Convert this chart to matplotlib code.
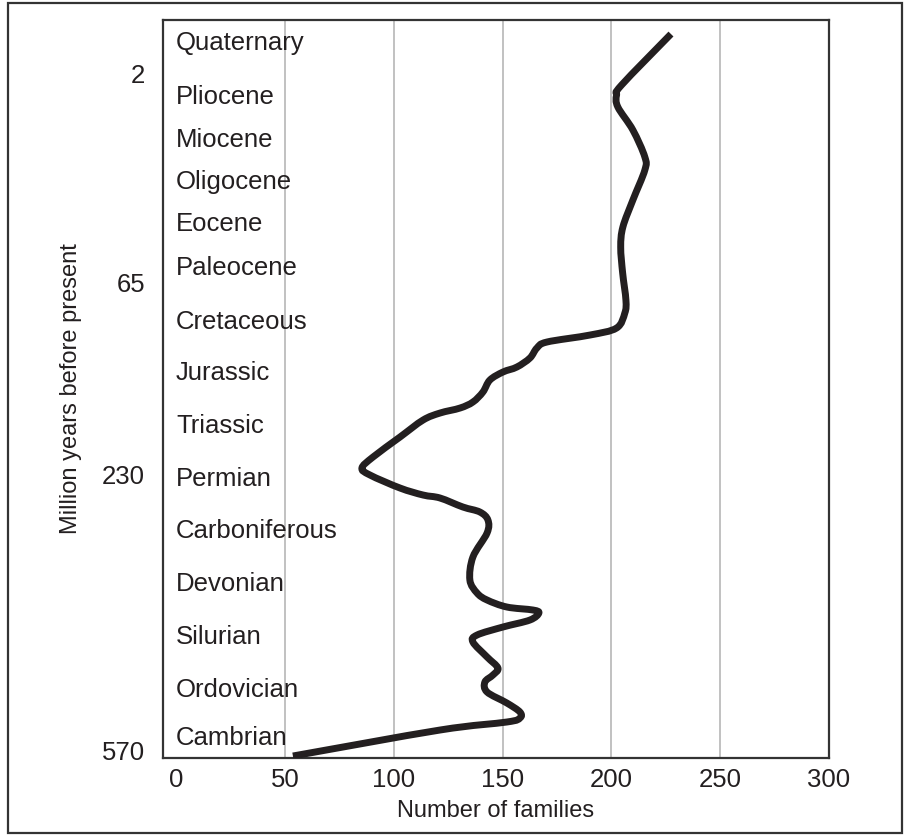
import numpy as np
import matplotlib
matplotlib.use('Agg')
import matplotlib.pyplot as plt
from matplotlib.patches import Rectangle, PathPatch
from matplotlib.path import Path

plt.rcParams['font.family'] = ['Liberation Sans', 'DejaVu Sans']

#%% Data
# geological periods, top (youngest) to bottom (oldest), and their height in the column
periods = ['Quaternary', 'Pliocene', 'Miocene', 'Oligocene', 'Eocene', 'Paleocene',
           'Cretaceous', 'Jurassic', 'Triassic', 'Permian', 'Carboniferous',
           'Devonian', 'Silurian', 'Ordovician', 'Cambrian']
period_pos = [715, 661, 618, 576, 534, 490, 436, 385, 332, 279, 227, 174, 121, 68, 20]

# million years before present labels on the left axis
age_ticks = [2, 65, 230, 570]
age_pos = [685, 476, 284, 8]

# number of families traced along the column (height, value)
curve_height = [724, 673, 663, 651, 628, 601, 588, 558, 531, 511, 485, 458, 445, 430,
                423, 416, 410, 400, 391, 386, 378, 366, 356, 350, 345, 338, 321, 301,
                290, 283, 270, 263, 260, 251, 246, 238, 225, 201, 178, 165, 158, 151,
                148, 145, 138, 131, 123, 116, 101, 90, 83, 76, 66, 55, 46, 40, 36, 28, 2]
families = [227.4, 204.7, 202.4, 203.0, 209.9, 215.4, 215.4, 209.9, 205.3, 204.3, 205.2,
            206.7, 206.2, 202.4, 190.2, 170.4, 165.8, 162.6, 156.6, 150.2, 144.2, 141.0,
            136.4, 130.5, 121.3, 113.5, 102.9, 90.5, 85.4, 89.1, 102.9, 113.5, 121.3,
            131.8, 139.6, 143.3, 142.9, 136.4, 135.0, 138.3, 142.9, 152.0, 164.0, 166.7,
            162.6, 150.2, 138.3, 136.4, 142.9, 147.9, 145.6, 141.9, 142.9, 152.0, 158.0,
            158.0, 152.0, 121.3, 53.7]

x_ticks = [0, 50, 100, 150, 200, 250, 300]
grid_x = [50, 100, 150, 200, 250]

ink = '#231f20'


def smooth_path(xs, ys):
    # Catmull-Rom through the traced points, drawn as cubic Bezier segments
    p = np.column_stack([xs, ys]).astype(float)
    p = np.vstack([p[0], p, p[-1]])
    verts = [p[1]]
    codes = [Path.MOVETO]
    for i in range(1, len(p) - 2):
        c1 = p[i] + (p[i + 1] - p[i - 1]) / 6
        c2 = p[i + 1] - (p[i + 2] - p[i]) / 6
        verts += [c1, c2, p[i + 1]]
        codes += [Path.CURVE4] * 3
    return Path(verts, codes)


#%% Plot
fig = plt.figure(figsize=(9.05, 8.35), dpi=100)
ax = fig.add_axes([0.1801, 0.0922, 0.7359, 0.8838])

ax.set_xlim(-6, 300)
ax.set_ylim(0, 738)

ax.vlines(grid_x, 0, 738, color='#b0b0b0', linewidth=1.1, zorder=1)

ax.add_patch(PathPatch(smooth_path(families, curve_height), fill=False,
                       edgecolor=ink, linewidth=5, capstyle='butt',
                       joinstyle='round', zorder=3))

for name, pos in zip(periods, period_pos):
    ax.text(0, pos, name, fontsize=18.5, color=ink, va='center', ha='left', zorder=2)

ax.set_xticks(x_ticks)
ax.set_xticklabels([str(t) for t in x_ticks], fontsize=18.5, color=ink)
ax.set_yticks(age_pos)
ax.set_yticklabels([str(a) for a in age_ticks], fontsize=18.5, color=ink)
ax.tick_params(axis='x', length=0, pad=7)
ax.tick_params(axis='y', length=0, pad=13)

ax.set_xlabel('Number of families', fontsize=17, color=ink, labelpad=6)
ax.set_ylabel('Million years before present', fontsize=17, color=ink, labelpad=14)

for s in ax.spines.values():
    s.set_color('#333333')
    s.set_linewidth(1.6)

# outer frame round the whole figure
fig.patches.append(Rectangle((8 / 905, 2 / 835), 894 / 905, 830 / 835,
                             transform=fig.transFigure, fill=False,
                             edgecolor='#333333', linewidth=1.6))

fig.savefig('out.png', dpi=100)
